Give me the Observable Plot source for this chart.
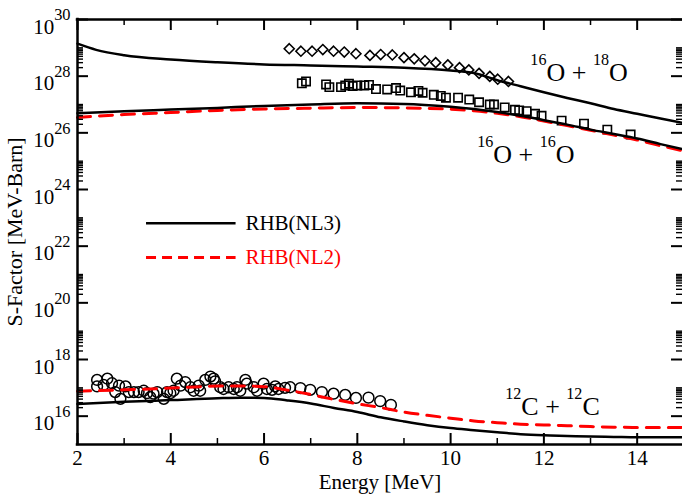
<!DOCTYPE html>
<html><head><meta charset="utf-8">
<script src="https://cdn.jsdelivr.net/npm/d3@7"></script>
<script src="https://cdn.jsdelivr.net/npm/@observablehq/plot@0.6"></script>
<style>body{margin:0;background:#fff;}#chart{width:682px;height:494px;}</style>
</head><body><div id="chart"></div>
<script>
// ---------- data ----------
// theory curves: 16O + 18O, RHB(NL3)
const eO18NL3 = [2, 2.4, 3, 4, 5, 6, 7, 8, 9, 10, 10.5, 11, 11.5, 12, 12.5, 13, 13.5, 14, 14.5, 15];
const sO18NL3 = [1.4e29, 8.5e28, 5.5e28, 3.9e28, 3.1e28, 2.6e28, 2.4e28, 2.2e28, 2.0e28, 1.6e28, 1.3e28, 7.2e27, 4.4e27, 2.7e27, 1.7e27, 1.1e27, 6.9e26, 4.7e26, 3.2e26, 2.2e26];
// 16O + 16O
const eO16 = [2, 3, 4, 5, 6, 7, 8, 9, 10, 10.5, 11, 11.5, 12, 12.5, 13, 13.5, 14, 14.5, 15];
const sO16NL3 = [4.9e26, 5.8e26, 6.6e26, 7.6e26, 8.9e26, 1.0e27, 1.1e27, 1.05e27, 8.3e26, 6.9e26, 5.4e26, 4.0e26, 2.8e26, 1.95e26, 1.3e26, 9.1e25, 6.3e25, 4.0e25, 2.6e25];
const sO16NL2 = [3.5e26, 4.4e26, 5.2e26, 6.2e26, 6.9e26, 7.4e26, 7.8e26, 7.6e26, 6.8e26, 6.0e26, 4.9e26, 3.7e26, 2.6e26, 1.8e26, 1.23e26, 8.3e25, 5.6e25, 3.5e25, 2.3e25];
// 12C + 12C
const eC12 = [2, 3, 4, 5, 5.5, 6, 6.5, 7, 7.5, 8, 8.5, 9, 9.5, 10, 10.5, 11, 11.5, 12, 12.5, 13, 13.5, 14, 14.5, 15];
const sC12NL3 = [2.7e16, 3.2e16, 3.7e16, 4.3e16, 4.5e16, 4.4e16, 3.6e16, 2.8e16, 1.95e16, 1.4e16, 9.1e15, 6.5e15, 4.8e15, 3.8e15, 3.2e15, 2.7e15, 2.3e15, 2.1e15, 2.0e15, 1.9e15, 1.85e15, 1.8e15, 1.8e15, 1.8e15];
const sC12NL2 = [7.6e16, 8.5e16, 9.8e16, 1.15e17, 1.17e17, 1.1e17, 8.3e16, 5.8e16, 3.9e16, 2.75e16, 2.0e16, 1.4e16, 1.07e16, 8.5e15, 6.8e15, 5.9e15, 5.2e15, 4.9e15, 4.6e15, 4.3e15, 4.1e15, 4.0e15, 4.0e15, 4.0e15];

// experimental points
const eO18Exp = [6.54, 6.79, 7.03, 7.26, 7.49, 7.72, 7.97, 8.27, 8.50, 8.75, 9.00, 9.22, 9.45, 9.68, 9.94, 10.19, 10.39, 10.61, 10.84, 11.01, 11.24];
const sO18Exp = [9.3e28, 7.6e28, 7.6e28, 8.7e28, 7.6e28, 7.1e28, 6.2e28, 5.4e28, 5.8e28, 5.6e28, 4.5e28, 4.1e28, 3.5e28, 3.0e28, 2.5e28, 2.0e28, 1.66e28, 1.26e28, 9.8e27, 7.8e27, 6.5e27];

const eO16Exp = [6.81, 6.90, 7.33, 7.40, 7.65, 7.74, 7.82, 7.90, 8.00, 8.15, 8.25, 8.40, 8.64, 8.83, 8.92, 9.15, 9.31, 9.40, 9.64, 9.79, 9.90, 10.16, 10.40, 10.61, 10.84, 10.93, 11.16, 11.38, 11.47, 11.63, 11.81, 11.95, 12.38, 12.86, 13.36, 13.86];
const sO16Exp = [5.6e27, 6.5e27, 5.1e27, 4.1e27, 4.1e27, 4.7e27, 5.4e27, 4.5e27, 4.7e27, 4.7e27, 4.9e27, 3.5e27, 3.4e27, 3.8e27, 3.1e27, 2.7e27, 3.0e27, 2.6e27, 2.2e27, 2.0e27, 1.74e27, 1.74e27, 1.5e27, 1.2e27, 1.0e27, 1.0e27, 7.9e26, 6.5e26, 6.2e26, 5.8e26, 4.7e26, 4.0e26, 2.7e26, 2.1e26, 1.3e26, 8.7e25];

const eC12Exp = [2.42, 2.42, 2.64, 2.56, 2.74, 2.89, 2.81, 2.92, 3.03, 3.10, 3.21, 3.31, 3.42, 3.49, 3.56, 3.63, 3.71, 3.85, 3.92, 3.99, 4.06, 4.13, 4.21, 4.31, 4.42, 4.49, 4.60, 4.63, 4.74, 4.85, 4.92, 4.95, 5.06, 5.13, 5.24, 5.35, 5.42, 5.49, 5.60, 5.63, 5.78, 5.85, 5.99, 6.06, 6.17, 6.24, 6.31, 6.45, 6.56, 6.78, 6.99, 7.24, 7.49, 7.74, 7.97, 8.24, 8.49, 8.72];
const sC12Exp = [1.9e17, 1.12e17, 2.1e17, 1.26e17, 1.45e17, 1.2e17, 7.1e16, 4.1e16, 1.12e17, 7.1e16, 7.1e16, 7.1e16, 7.9e16, 6.5e16, 4.7e16, 6.2e16, 7.1e16, 4.1e16, 7.1e16, 6.5e16, 7.9e16, 2.1e17, 1.2e17, 1.6e17, 1.05e17, 7.9e16, 1.2e17, 7.9e16, 1.9e17, 2.5e17, 2.1e17, 1.7e17, 1.05e17, 9.1e16, 1.05e17, 9.1e16, 1.05e17, 7.9e16, 1.9e17, 1.4e17, 1.05e17, 7.9e16, 1.4e17, 9.1e16, 8.5e16, 1.12e17, 9.1e16, 1.0e17, 1.05e17, 9.8e16, 8.5e16, 7.1e16, 6.2e16, 5.6e16, 4.4e16, 4.5e16, 3.4e16, 2.5e16];

// ticks and labels
const xTickLabels = [2, 4, 6, 8, 10, 12, 14];
const xMinorTicks = [3, 5, 7, 9, 11, 13];
const yTickExponents = [16, 18, 20, 22, 24, 26, 28, 30];
const seriesNames = ["RHB(NL3)", "RHB(NL2)"];
const reactionLabels = ["^{16}O + ^{18}O", "^{16}O + ^{16}O", "^{12}C + ^{12}C"];

// ---------- chart ----------
const FONT = '"Liberation Serif","Times New Roman",Times,serif';
const RED = "#ff0000";
const yMajor = yTickExponents.map(e => 10 ** e);
const yMinor = yTickExponents.filter(e => e < 30).flatMap(e => d3.range(2, 11).map(m => m * 10 ** e));
const PW = 682 - 77, PH = 444 - 19;

const chart = Plot.plot({
  width: 682, height: 494,
  marginLeft: 77, marginRight: 0, marginTop: 19, marginBottom: 50,
  style: {fontFamily: FONT, background: "white", color: "black"},
  x: {domain: [2, 15], range: [77, 683.3], axis: null},
  y: {type: "log", domain: [1e15, 1e30], range: [444, 19], axis: null},
  marks: [
    // experimental symbols
    Plot.dot(sO18Exp, {x: eO18Exp, y: sO18Exp, symbol: "diamond2", r: 4.5, stroke: "black", strokeWidth: 1.6, fill: "none"}),
    Plot.dot(sO16Exp, {x: eO16Exp, y: sO16Exp, symbol: "square", r: 4.7, stroke: "black", strokeWidth: 1.6, fill: "none"}),
    Plot.dot(sC12Exp, {x: eC12Exp, y: sC12Exp, symbol: "circle", r: 5.4, stroke: "black", strokeWidth: 1.5, fill: "none"}),
    // theory curves
    Plot.line(sO18NL3, {x: eO18NL3, y: sO18NL3, stroke: "black", strokeWidth: 2.5, curve: "monotone-x"}),
    Plot.line(sO16NL2, {x: eO16, y: sO16NL2, stroke: RED, strokeWidth: 3, strokeDasharray: "13,9", curve: "monotone-x"}),
    Plot.line(sO16NL3, {x: eO16, y: sO16NL3, stroke: "black", strokeWidth: 2.5, curve: "monotone-x"}),
    Plot.line(sC12NL2, {x: eC12, y: sC12NL2, stroke: RED, strokeWidth: 3, strokeDasharray: "13,9", curve: "monotone-x"}),
    Plot.line(sC12NL3, {x: eC12, y: sC12NL3, stroke: "black", strokeWidth: 2.5, curve: "monotone-x"}),
    // frame
    Plot.ruleX([2], {stroke: "black", strokeWidth: 2.5, strokeLinecap: "square"}),
    Plot.ruleY([1e15, 1e30], {stroke: "black", strokeWidth: 2.5, strokeLinecap: "square"}),
    // ticks (inside)
    Plot.tickY(yMajor, {y: d => d, insetRight: PW - 11, stroke: "black", strokeWidth: 2}),
    Plot.tickY(yMinor, {y: d => d, insetRight: PW - 6, stroke: "black", strokeWidth: 1.4}),
    Plot.tickY(yMajor, {y: d => d, insetLeft: PW - 11, stroke: "black", strokeWidth: 2}),
    Plot.tickY(yMinor, {y: d => d, insetLeft: PW - 6, stroke: "black", strokeWidth: 1.4}),
    Plot.tickX(xTickLabels, {x: d => d, insetTop: PH - 11, stroke: "black", strokeWidth: 2}),
    Plot.tickX(xMinorTicks, {x: d => d, insetTop: PH - 6, stroke: "black", strokeWidth: 1.5}),
    Plot.tickX(xTickLabels, {x: d => d, insetBottom: PH - 11, stroke: "black", strokeWidth: 2}),
    Plot.tickX(xMinorTicks, {x: d => d, insetBottom: PH - 6, stroke: "black", strokeWidth: 1.5}),
    // tick labels
    Plot.text(xTickLabels, {x: d => d, frameAnchor: "bottom", text: d => String(d), dy: 20, lineAnchor: "bottom", fontSize: 21}),
    Plot.text(yTickExponents, {y: e => 10 ** e, frameAnchor: "left", text: e => `10^{${e}}`, textAnchor: "end", dx: -7, dy: 14, lineAnchor: "bottom", fontSize: 21}),
    // axis titles
    Plot.text(["Energy [MeV]"], {frameAnchor: "bottom", textAnchor: "middle", dy: 44, lineAnchor: "bottom", fontSize: 21}),
    Plot.text(["S-Factor [MeV-Barn]"], {frameAnchor: "left", textAnchor: "middle", rotate: -90, dx: -56, lineAnchor: "bottom", fontSize: 22}),
    // legend
    Plot.ruleY([6.5e22], {x1: 3.48, x2: 5.40, stroke: "black", strokeWidth: 2.5}),
    Plot.ruleY([4.0e21], {x1: 3.48, x2: 5.40, stroke: RED, strokeWidth: 3, strokeDasharray: "10,6"}),
    Plot.text([seriesNames[0]], {x: 5.6, y: 6.5e22, textAnchor: "start", fontSize: 21, fill: "black"}),
    Plot.text([seriesNames[1]], {x: 5.6, y: 4.0e21, textAnchor: "start", fontSize: 21, fill: RED}),
    // reaction labels
    Plot.text([reactionLabels[0]], {x: 11.71, y: 7.0e27, textAnchor: "start", lineAnchor: "bottom", fontSize: 26}),
    Plot.text([reactionLabels[1]], {x: 10.57, y: 8.9e24, textAnchor: "start", lineAnchor: "bottom", fontSize: 26}),
    Plot.text([reactionLabels[2]], {x: 11.17, y: 1.14e16, textAnchor: "start", lineAnchor: "bottom", fontSize: 26})
  ]
});
document.getElementById("chart").appendChild(chart);

// turn ^{..} into superscript tspans
function superscripts(svg) {
  const NS = "http://www.w3.org/2000/svg";
  svg.querySelectorAll("text").forEach((t) => {
    const s = t.textContent;
    if (!s.includes("^{")) return;
    const fs = parseFloat(getComputedStyle(t).fontSize);
    const big = fs > 23;
    const supSize = fs * (big ? 0.62 : 0.78);
    const rise = fs * (big ? 0.6 : 0.62);
    t.textContent = "";
    const re = /\^\{([^}]*)\}|([^^]+)/g;
    let m, raised = false;
    while ((m = re.exec(s))) {
      const ts = document.createElementNS(NS, "tspan");
      if (m[1] !== undefined) {
        ts.textContent = m[1];
        ts.setAttribute("font-size", supSize);
        if (!raised) ts.setAttribute("dy", -rise);
        raised = true;
      } else {
        ts.textContent = m[2];
        if (raised) ts.setAttribute("dy", rise);
        raised = false;
      }
      t.appendChild(ts);
    }
  });
}
superscripts(chart);
</script>
</body></html>
